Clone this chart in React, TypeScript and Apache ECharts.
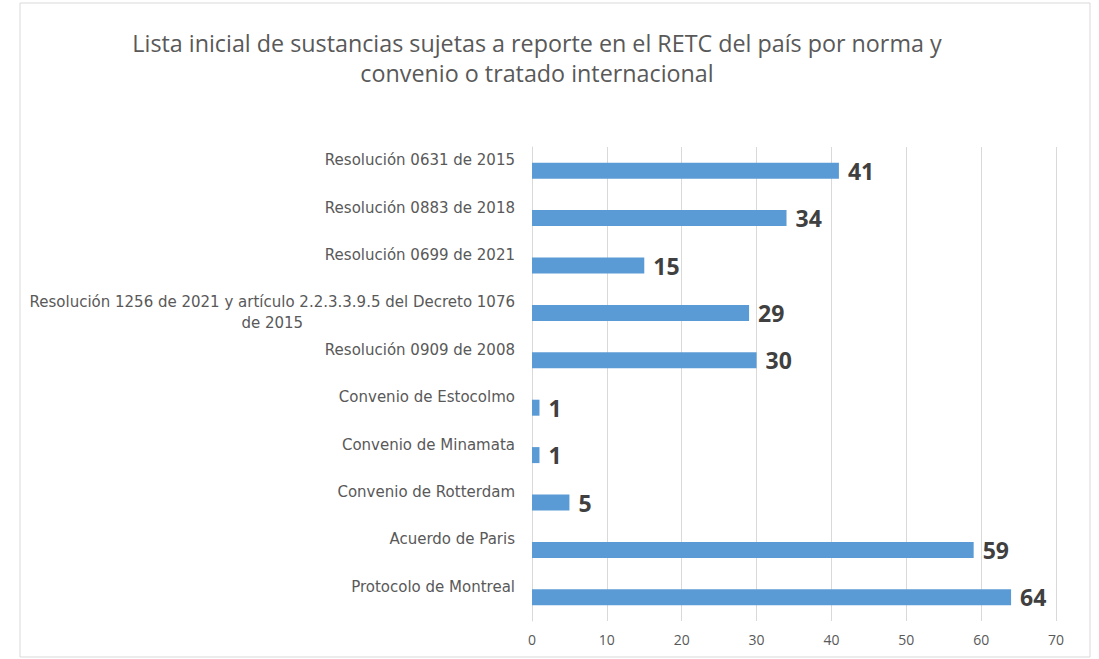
import React, { useEffect, useRef } from "react";
import * as echarts from "echarts";

const titleText = "Lista inicial de sustancias sujetas a reporte en el RETC del país por norma y\nconvenio o tratado internacional";
const categories = [
  "Resolución 0631 de 2015",
  "Resolución 0883 de 2018",
  "Resolución 0699 de 2021",
  "Resolución 1256 de 2021 y artículo 2.2.3.3.9.5 del Decreto 1076\nde 2015",
  "Resolución 0909 de 2008",
  "Convenio de Estocolmo",
  "Convenio de Minamata",
  "Convenio de Rotterdam",
  "Acuerdo de Paris",
  "Protocolo de Montreal",
];
const values = [41, 34, 15, 29, 30, 1, 1, 5, 59, 64];
const xTicks = { min: 0, max: 70, interval: 10 };

const LABEL_FONT = "'DejaVu Sans', sans-serif";
const TITLE_FONT = "'Open Sans', 'Noto Sans', sans-serif";

function measure(text: string, font: string): number {
  const c = document.createElement("canvas");
  const ctx = c.getContext("2d");
  if (!ctx) return 480;
  ctx.font = font;
  return ctx.measureText(text).width;
}

export default function App() {
  const ref = useRef<HTMLDivElement>(null);
  useEffect(() => {
    if (!ref.current) return;
    const chart = echarts.init(ref.current, undefined, { renderer: "svg" });
    const labelSize = 15;
    const multi = categories.find((c) => c.includes("\n"));
    const firstLineWidth = multi
      ? measure(multi.split("\n")[0], `${labelSize}px 'DejaVu Sans'`)
      : 0;
    const option: any = {
      animation: false,
      backgroundColor: "#ffffff",
      title: {
        text: titleText,
        left: 532,
        textAlign: "center",
        top: 23,
        textStyle: {
          fontFamily: TITLE_FONT,
          fontWeight: "normal",
          fontSize: 23.3,
          lineHeight: 30,
          color: "#595959",
        },
      },
      graphic: [
        {
          type: "rect",
          shape: { x: 20, y: 3, width: 1070, height: 654 },
          style: { fill: "none", stroke: "#d9d9d9", lineWidth: 1 },
          silent: true,
        },
      ],
      grid: { left: 532, right: 43, top: 147, bottom: 38, containLabel: false },
      xAxis: {
        type: "value",
        min: xTicks.min,
        max: xTicks.max,
        interval: xTicks.interval,
        axisLine: { show: false },
        axisTick: { show: false },
        splitLine: { show: true, lineStyle: { color: "#d9d9d9", width: 1 } },
        axisLabel: {
          margin: 11,
          fontSize: 14,
          color: "#595959",
          fontFamily: TITLE_FONT,
        },
      },
      yAxis: {
        type: "category",
        inverse: true,
        data: categories,
        axisLine: { show: true, lineStyle: { color: "#d9d9d9" } },
        axisTick: { show: false },
        axisLabel: {
          margin: 17,
          fontSize: labelSize,
          color: "#595959",
          fontFamily: LABEL_FONT,
          lineHeight: 21,
          align: "right",
          formatter: (v: string) => {
            if (v.includes("\n")) {
              const [l1, l2] = v.split("\n");
              return `{m|${l1}}\n{c|${l2}}`;
            }
            return `{s|${v}}`;
          },
          rich: {
            s: {
              fontSize: labelSize,
              color: "#595959",
              fontFamily: LABEL_FONT,
              padding: [0, 0, 21, 0],
              lineHeight: 21,
            },
            m: {
              fontSize: labelSize,
              color: "#595959",
              fontFamily: LABEL_FONT,
              lineHeight: 21,
            },
            c: {
              fontSize: labelSize,
              color: "#595959",
              fontFamily: LABEL_FONT,
              lineHeight: 21,
              width: firstLineWidth,
              align: "center",
            },
          },
        },
      },
      series: [
        {
          type: "bar",
          data: values,
          barWidth: 16,
          itemStyle: { color: "#5B9BD5" },
          label: {
            show: true,
            position: "right",
            distance: 9,
            fontSize: 23,
            fontWeight: "bold",
            color: "#404040",
            fontFamily: TITLE_FONT,
          },
        },
      ],
    };
    chart.setOption(option);
    return () => chart.dispose();
  }, []);
  return (
    <div
      ref={ref}
      style={{ position: "fixed", left: 0, top: 0, width: 1099, height: 659 }}
    />
  );
}
